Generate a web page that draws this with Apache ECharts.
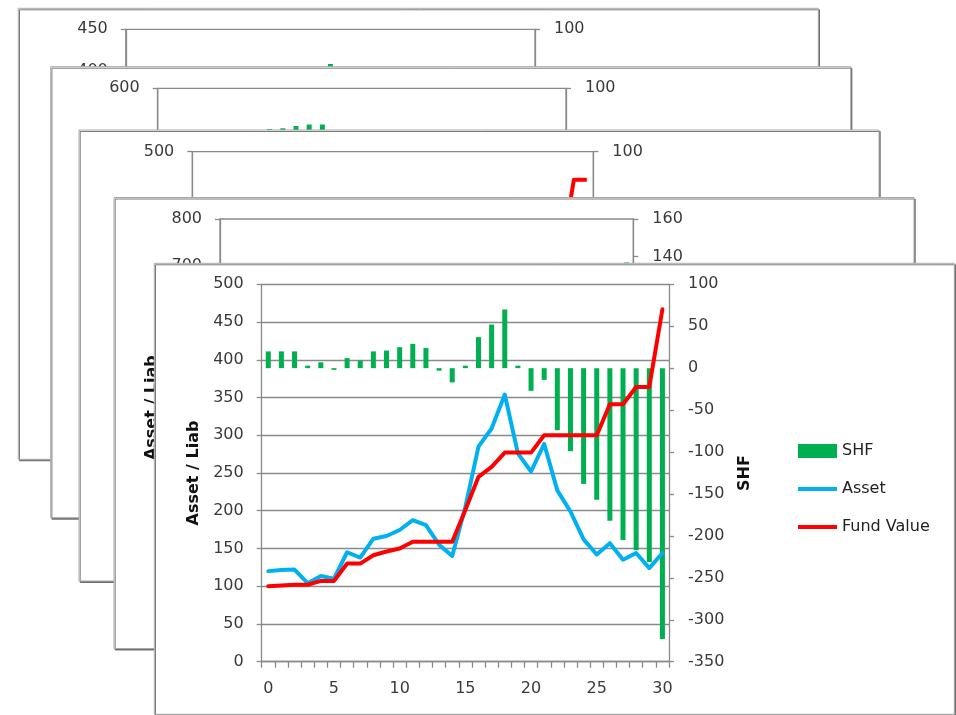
<!DOCTYPE html>
<html><head><meta charset="utf-8">
<script src="https://cdn.jsdelivr.net/npm/echarts@6/dist/echarts.min.js"></script>
<style>html,body{margin:0;padding:0;background:#fff}#c{width:956px;height:715px}</style>
</head><body><div id="c"></div>
<script>
// ---- data (front chart) ----
const categories = ['0','1','2','3','4','5','6','7','8','9','10','11','12','13','14','15','16','17','18','19','20','21','22','23','24','25','26','27','28','29','30'];
const shf = [20, 20, 20, 3, 7, -2, 12, 9, 20, 21, 25, 29, 24, -3, -17, 3, 37, 52, 70, 3, -27, -14, -74, -99, -138, -157, -182, -205, -217, -231, -323];
const asset = [120, 121.5, 122, 104, 113.5, 110, 145, 138, 163, 166.5, 174.5, 187.5, 181, 155, 140, 205, 285, 309, 354, 276, 252, 288.5, 227, 199, 162, 142, 157, 135, 144, 124, 144];
const fundValue = [100, 101, 102, 102, 107, 107, 130, 130, 141, 146, 150, 159, 159, 159, 159, 201, 245, 258, 277, 277, 277, 300, 300, 300, 300, 300, 341, 341, 364, 364, 467];
const leftTickLabels = ['0','50','100','150','200','250','300','350','400','450','500'];
const rightTickLabels = ['-350','-300','-250','-200','-150','-100','-50','0','50','100'];
const seriesNames = ['SHF', 'Asset', 'Fund Value'];
const axisNames = ['Asset / Liab', 'SHF'];

// ---- data (visible fragments of the charts stacked behind) ----
const card1Shf = [['15', 54]];
const card2Shf = [['8', 46], ['9', 47], ['10', 50], ['11', 52], ['12', 52]];
const card3Fund = [['28', 360], ['29', 463], ['30', 463]];
const card4Shf = [['30', 137]];

// ---- styling / layout ----
const FONT = '"DejaVu Sans", Verdana, sans-serif';
const GRAY = '#8a8a8a';
const TXT = '#3a3a3a';
const GREEN = '#00b050', BLUE = '#00b0f0', RED = '#ff0000';
const PLOT_H = 377.4;
const LINE_ICON = 'path://M0,0L40,0L40,4.2L0,4.2Z';

const cards = [
  { x: 18.3, y: 8.3 }, { x: 50.7, y: 66.7 }, { x: 79, y: 130 }, { x: 114, y: 197.5 }, { x: 154.3, y: 263.3 }
];
const bg = [
  { left: 125.8, top: 29.3, width: 409.2, lMax: 450, lInt: 50, rMin: -400, rMax: 100, rInt: 100 },
  { left: 157.7, top: 88.3, width: 408.3, lMax: 600, lInt: 100, rMin: -400, rMax: 100, rInt: 100 },
  { left: 192.3, top: 151.7, width: 401, lMax: 500, lInt: 100, rMin: -400, rMax: 100, rInt: 100 },
  { left: 220, top: 219, width: 413.3, lMax: 800, lInt: 100, rMin: -40, rMax: 160, rInt: 20 }
];

const lineSt = { color: GRAY, width: 1.3 };
const lblSt = (m) => ({ margin: m, fontSize: 16, color: TXT, fontFamily: FONT });
const nameSt = { fontWeight: 'bold', fontSize: 16, color: '#111', fontFamily: FONT };

const grids = [], xAxes = [], yAxes = [], series = [];
const graphic = [];

cards.forEach((c, i) => {
  graphic.push({
    type: 'rect', z: 2 * i + 1,
    shape: { x: c.x, y: c.y, width: 800, height: 451 },
    style: { fill: '#ffffff', stroke: '#a8a8a8', lineWidth: 1,
      shadowColor: 'rgba(90,90,90,0.8)', shadowOffsetX: 1.2, shadowOffsetY: 1.5, shadowBlur: 0 }
  });
});

bg.forEach((b, i) => {
  const z = 2 * i + 2;
  grids.push({ left: b.left, top: b.top, width: b.width, height: PLOT_H, show: true,
    borderColor: GRAY, borderWidth: 1.3, backgroundColor: 'transparent', z: z, outerBoundsMode: 'none' });
  xAxes.push({ gridIndex: i, type: 'category', data: categories, show: false, boundaryGap: true, z: z });
  yAxes.push({ gridIndex: i, type: 'value', position: 'left', min: 0, max: b.lMax, interval: b.lInt, z: z,
    axisLine: { show: true, lineStyle: lineSt }, axisTick: { show: true, length: 5, lineStyle: lineSt },
    axisLabel: lblSt(18), splitLine: { show: false },
    name: i === 3 ? axisNames[0] : '', nameLocation: 'middle', nameRotate: 90, nameGap: 60, nameTextStyle: nameSt });
  yAxes.push({ gridIndex: i, type: 'value', position: 'right', min: b.rMin, max: b.rMax, interval: b.rInt, z: z,
    axisLine: { show: true, lineStyle: lineSt }, axisTick: { show: true, length: 5, lineStyle: lineSt },
    axisLabel: lblSt(19), splitLine: { show: false } });
});

// background fragments
series.push({ name: 'bg1', type: 'bar', xAxisIndex: 0, yAxisIndex: 1, data: card1Shf, barWidth: 5, itemStyle: { color: GREEN }, z: 2 });
series.push({ name: 'bg2', type: 'bar', xAxisIndex: 1, yAxisIndex: 3, data: card2Shf, barWidth: 5, itemStyle: { color: GREEN }, z: 4 });
series.push({ name: 'bg3', type: 'line', xAxisIndex: 2, yAxisIndex: 4, data: card3Fund, symbol: 'none',
  lineStyle: { color: RED, width: 4, join: 'round' }, z: 6 });
series.push({ name: 'bg4', type: 'bar', xAxisIndex: 3, yAxisIndex: 7, data: card4Shf, barWidth: 5, itemStyle: { color: GREEN }, z: 8 });

// front chart
const FZ = 10;
grids.push({ left: 261.7, top: 284.3, width: 407.3, height: PLOT_H, show: false, z: FZ, outerBoundsMode: 'none' });
xAxes.push({ gridIndex: 4, type: 'category', data: categories, boundaryGap: true, z: FZ,
  axisLine: { show: true, onZero: false, lineStyle: lineSt },
  axisTick: { show: true, interval: 0, length: 6, lineStyle: lineSt },
  axisLabel: Object.assign(lblSt(19), { interval: 4 }), splitLine: { show: false } });
yAxes.push({ gridIndex: 4, type: 'value', position: 'left', min: 0, max: 500, interval: 50, z: FZ,
  axisLine: { show: true, onZero: false, lineStyle: lineSt }, axisTick: { show: true, length: 5, lineStyle: lineSt },
  axisLabel: Object.assign(lblSt(18), { formatter: (v) => leftTickLabels[Math.round(v / 50)] }),
  splitLine: { show: true, lineStyle: lineSt },
  name: axisNames[0], nameLocation: 'middle', nameRotate: 90, nameGap: 60, nameTextStyle: nameSt });
yAxes.push({ gridIndex: 4, type: 'value', position: 'right', min: -350, max: 100, interval: 50, z: FZ,
  axisLine: { show: true, onZero: false, lineStyle: lineSt }, axisTick: { show: true, length: 5, lineStyle: lineSt },
  axisLabel: Object.assign(lblSt(19), { formatter: (v) => rightTickLabels[Math.round((v + 350) / 50)] }),
  splitLine: { show: false },
  name: axisNames[1], nameLocation: 'middle', nameRotate: 90, nameGap: 68, nameTextStyle: nameSt });

series.push({ name: seriesNames[0], type: 'bar', xAxisIndex: 4, yAxisIndex: 9, data: shf, barWidth: 5,
  itemStyle: { color: GREEN }, z: FZ + 1 });
series.push({ name: seriesNames[1], type: 'line', xAxisIndex: 4, yAxisIndex: 8, data: asset, symbol: 'none',
  lineStyle: { color: BLUE, width: 4, join: 'round', cap: 'round' }, itemStyle: { color: BLUE }, z: FZ + 2 });
series.push({ name: seriesNames[2], type: 'line', xAxisIndex: 4, yAxisIndex: 8, data: fundValue, symbol: 'none',
  lineStyle: { color: RED, width: 4, join: 'round', cap: 'round' }, itemStyle: { color: RED }, z: FZ + 3 });

const chart = echarts.init(document.getElementById('c'), null, { renderer: 'canvas' });
chart.setOption({
  animation: false,
  backgroundColor: '#ffffff',
  textStyle: { fontFamily: FONT },
  graphic: { elements: graphic },
  grid: grids, xAxis: xAxes, yAxis: yAxes, series: series,
  legend: {
    data: [
      { name: seriesNames[0], icon: 'rect' },
      { name: seriesNames[1], icon: LINE_ICON, itemStyle: { color: BLUE } },
      { name: seriesNames[2], icon: LINE_ICON, itemStyle: { color: RED } }
    ],
    orient: 'vertical', left: 793, top: 438, itemWidth: 39, itemHeight: 14,
    itemGap: 22, selectedMode: false, z: FZ + 5,
    textStyle: { fontSize: 16, color: '#222', fontFamily: FONT } }
});
</script></body></html>
